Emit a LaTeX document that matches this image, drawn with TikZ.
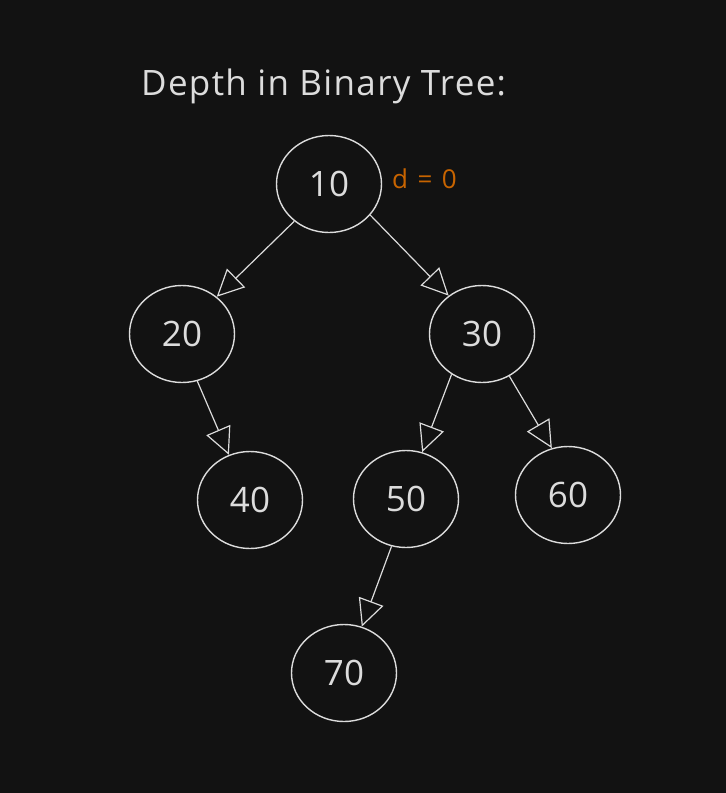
\documentclass[tikz,border=0pt]{standalone}
\usepackage{fontspec}
\setmainfont{Open Sans}
\newfontfamily\depthfont[WordSpace=1.4]{Open Sans}
\usetikzlibrary{arrows.meta, shapes.geometric}
\definecolor{bg}{HTML}{121212}
\definecolor{fg}{HTML}{DCDCDC}
\definecolor{depth}{HTML}{C86400}
\tikzset{
  link/.style={fg, line width=1.2pt,
    -{Triangle[open, length=27pt, width=26pt, line width=1.2pt]}}
}

\begin{document}
\begin{tikzpicture}[x=1pt, y=-1pt]
        \fill [bg] (0, 0) rectangle (726, 793);
        \useasboundingbox (0, 0) rectangle (726, 793);

        \node [fg, anchor=base west, inner sep=0pt,
          font=\fontsize{35}{40}\selectfont\addfontfeatures{LetterSpace=3.8}]
          (title) at (141, 95) {Depth in Binary Tree:};

        {\tikzstyle{every node}=[ellipse, draw=fg, line width=1.4pt, text=fg,
            minimum width=105pt, minimum height=97pt, inner sep=0pt,
            font=\fontsize{35}{40}\selectfont]
          \foreach \v/\x/\y in {10/329/184, 20/182/334, 30/482/334,
                                40/250/500, 50/406/499, 60/568/495, 70/344/673}
          {
            \node (n\v) at (\x, \y) {\v};
          }
        }

        \node [depth, anchor=base west, inner sep=0pt,
          font=\depthfont\fontsize{26}{28}\selectfont]
          (d0) at (392, 188) {d = 0};

        \foreach \a/\b in {10.227/20.47, 10.323/30.131, 20.288/40.115,
                           30.233/50.71, 30.303/60.109, 50.253/70.69}
        {
          \draw [link] (n\a) -- (n\b);
        }
      \end{tikzpicture}
\end{document}
